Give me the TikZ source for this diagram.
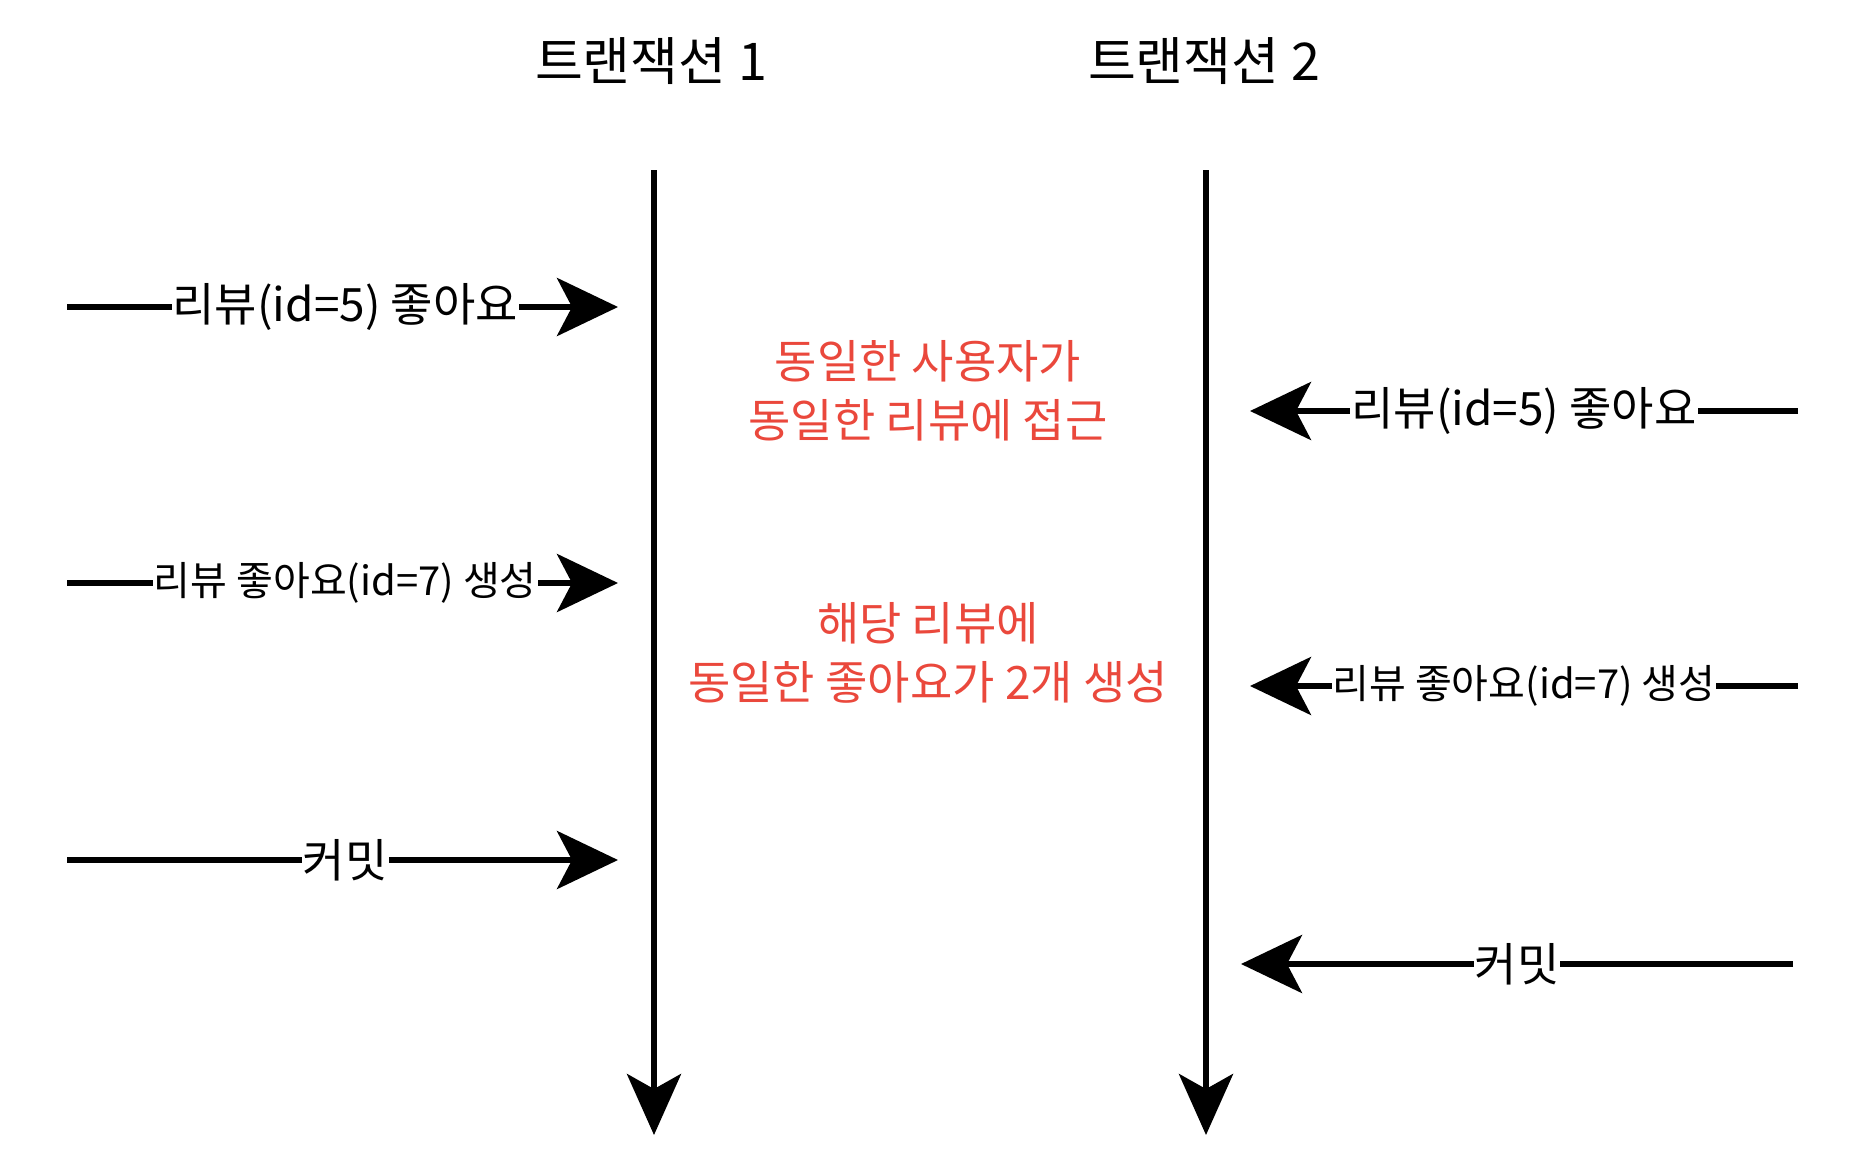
\documentclass[tikz,border=0pt]{standalone}
\usepackage{fontspec}
\setmainfont{Noto Sans CJK KR}
\usetikzlibrary{arrows.meta}
\definecolor{redtxt}{RGB}{234,72,60}
\begin{document}
\begin{tikzpicture}[x=1pt,y=-1pt,
  wire/.style={line width=6pt, -{Stealth[length=61pt,width=58pt,inset=15pt]}},
  life/.style={line width=6pt, -{Stealth[length=61pt,width=54pt,inset=15pt]}},
  lblA/.style={fill=white, inner xsep=1pt, inner ysep=6pt, font=\fontsize{46}{52}\selectfont},
  lblB/.style={fill=white, inner xsep=1pt, inner ysep=6pt, font=\fontsize{40}{46}\selectfont},
  title/.style={font=\fontsize{52}{58}\selectfont},
  note/.style={text=redtxt, align=center, font=\fontsize{46}{59}\selectfont}]
\useasboundingbox (0,0) rectangle (1854,1172);
% titles
\node[title] (t1) at (651,61) {트랜잭션 1};
\node[title] (t2) at (1204,61) {트랜잭션 2};
% lifelines
\coordinate (l1s) at (654,170);
\coordinate (l1e) at (654,1135);
\coordinate (l2s) at (1206,170);
\coordinate (l2e) at (1206,1135);
\draw[life] (l1s) -- (l1e);
\draw[life] (l2s) -- (l2e);
% left arrows
\coordinate (a1s) at (67,307);  \coordinate (a1e) at (618,307);
\coordinate (a2s) at (67,583);  \coordinate (a2e) at (618,583);
\coordinate (a3s) at (67,860);  \coordinate (a3e) at (618,860);
\draw[wire] (a1s) -- node[lblA, pos=0.505] (m1) {리뷰(id=5) 좋아요} (a1e);
\draw[wire] (a2s) -- node[lblB, pos=0.505] (m2) {리뷰 좋아요(id=7) 생성} (a2e);
\draw[wire] (a3s) -- node[lblA, pos=0.505] (m3) {커밋} (a3e);
% right arrows
\coordinate (b1s) at (1798,411); \coordinate (b1e) at (1250,411);
\coordinate (b2s) at (1798,686); \coordinate (b2e) at (1250,686);
\coordinate (b3s) at (1793,964); \coordinate (b3e) at (1241,964);
\draw[wire] (b1s) -- node[lblA, pos=0.5] (m4) {리뷰(id=5) 좋아요} (b1e);
\draw[wire] (b2s) -- node[lblB, pos=0.5] (m5) {리뷰 좋아요(id=7) 생성} (b2e);
\draw[wire] (b3s) -- node[lblA, pos=0.5] (m6) {커밋} (b3e);
% red notes
\node[note] (n1) at (928,391) {동일한 사용자가\\동일한 리뷰에 접근};
\node[note] (n2) at (928,653) {해당 리뷰에\\동일한 좋아요가 2개 생성};
\end{tikzpicture}
\end{document}
